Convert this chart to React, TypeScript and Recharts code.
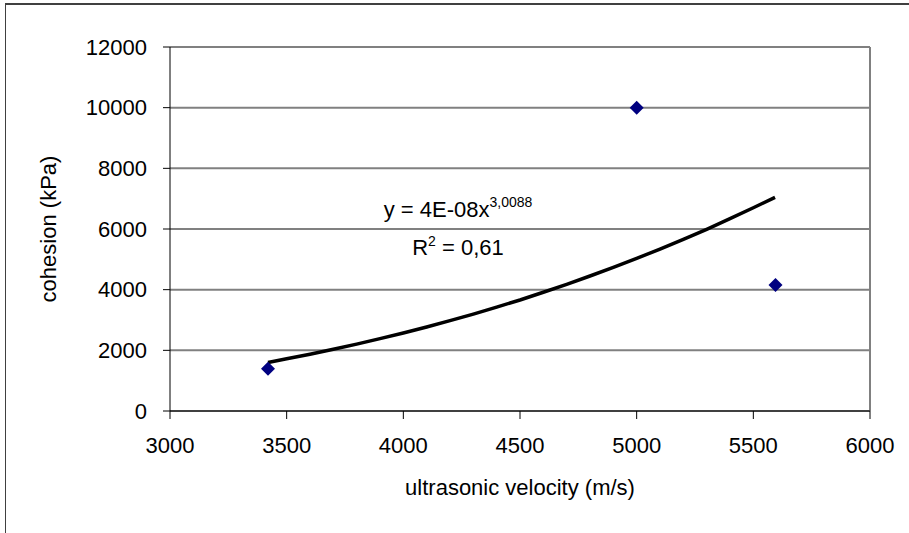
import React from 'react';
import {
  ScatterChart,
  Scatter,
  XAxis,
  YAxis,
  CartesianGrid,
  ReferenceLine,
} from 'recharts';

// Measured points: ultrasonic velocity (m/s) vs cohesion (kPa)
const velocity = [3420, 5000, 5595];
const cohesion = [1390, 10000, 4150];

// Power trendline
const trendVelocity = [
  3420, 3500, 3600, 3700, 3800, 3900, 4000, 4100, 4200, 4300, 4400, 4500,
  4600, 4700, 4800, 4900, 5000, 5100, 5200, 5300, 5400, 5500, 5593,
];
const trendCohesion = [
  1600, 1720, 1870, 2035, 2205, 2385, 2570, 2770, 2980, 3195, 3425, 3660,
  3915, 4175, 4450, 4735, 5030, 5340, 5660, 5990, 6340, 6700, 7045,
];

const xTicks = [3000, 3500, 4000, 4500, 5000, 5500, 6000];
const yTicks = [0, 2000, 4000, 6000, 8000, 10000, 12000];

const xTitle = 'ultrasonic velocity (m/s)';
const yTitle = 'cohesion (kPa)';
const eqMain = 'y = 4E-08x';
const eqExp = '3,0088';
const r2Label = 'R';
const r2Exp = '2';
const r2Value = ' = 0,61';

const points = velocity.map((v, i) => ({ x: v, y: cohesion[i] }));
const trend = trendVelocity.map((v, i) => ({ x: v, y: trendCohesion[i] }));

const FONT = '"Liberation Sans", Arial, sans-serif';

const Diamond = (props: any) => {
  const { cx, cy } = props;
  if (cx == null || cy == null) return <g />;
  const r = 7;
  return (
    <polygon
      points={`${cx},${cy - r} ${cx + r},${cy} ${cx},${cy + r} ${cx - r},${cy}`}
      fill="#000080"
    />
  );
};

const NoShape = () => <g />;

export default function App() {
  return (
    <div
      style={{
        position: 'absolute',
        left: 0,
        top: 0,
        width: 909,
        height: 533,
        background: '#fff',
        fontFamily: FONT,
      }}
    >
      <ScatterChart
        width={909}
        height={533}
        margin={{ top: 47, right: 39, bottom: 0, left: 0 }}
        style={{ fontFamily: FONT }}
      >
        <CartesianGrid
          vertical={false}
          stroke="#808080"
          strokeWidth={2}
          horizontalValues={yTicks}
        />
        <XAxis
          type="number"
          dataKey="x"
          domain={[3000, 6000]}
          ticks={xTicks}
          interval={0}
          height={122}
          tickSize={8}
          tickMargin={18}
          axisLine={{ stroke: '#404040', strokeWidth: 2 }}
          tickLine={{ stroke: '#000', strokeWidth: 1 }}
          tick={{ fill: '#000', fontSize: 22, fontFamily: FONT }}
          allowDataOverflow
          label={{
            value: xTitle,
            position: 'bottom',
            offset: -54,
            style: { fill: '#000', fontSize: 22, fontFamily: FONT },
          }}
        />
        <YAxis
          type="number"
          dataKey="y"
          domain={[0, 12000]}
          ticks={yTicks}
          interval={0}
          width={170}
          tickSize={7}
          tickMargin={16}
          axisLine={{ stroke: '#000', strokeWidth: 1 }}
          tickLine={{ stroke: '#000', strokeWidth: 1 }}
          tick={{ fill: '#000', fontSize: 22, fontFamily: FONT }}
          allowDataOverflow
          label={{
            value: yTitle,
            angle: -90,
            position: 'insideLeft',
            offset: 48,
            style: {
              fill: '#000',
              fontSize: 22,
              fontFamily: FONT,
              textAnchor: 'middle',
            },
          }}
        />
        <ReferenceLine x={6000} stroke="#808080" strokeWidth={2} />
        <Scatter
          data={trend}
          line={{ stroke: '#000', strokeWidth: 3.5 }}
          lineType="joint"
          shape={NoShape}
          isAnimationActive={false}
        />
        <Scatter data={points} shape={Diamond} isAnimationActive={false} />
      </ScatterChart>
      <svg
        width={909}
        height={533}
        style={{ position: 'absolute', left: 0, top: 0, pointerEvents: 'none' }}
      >
        <line x1={5} y1={4} x2={909} y2={4} stroke="#404040" strokeWidth={2} />
        <line x1={5.5} y1={4} x2={5.5} y2={533} stroke="#404040" strokeWidth={1} />
        <text
          x={458}
          y={217}
          textAnchor="middle"
          fontSize={22}
          fontFamily={FONT}
          fill="#000"
        >
          {eqMain}
          <tspan dy={-10} fontSize={14}>
            {eqExp}
          </tspan>
        </text>
        <text
          x={458}
          y={255}
          textAnchor="middle"
          fontSize={22}
          fontFamily={FONT}
          fill="#000"
        >
          {r2Label}
          <tspan dy={-9} fontSize={14}>
            {r2Exp}
          </tspan>
          <tspan dy={9}>{r2Value}</tspan>
        </text>
      </svg>
    </div>
  );
}
